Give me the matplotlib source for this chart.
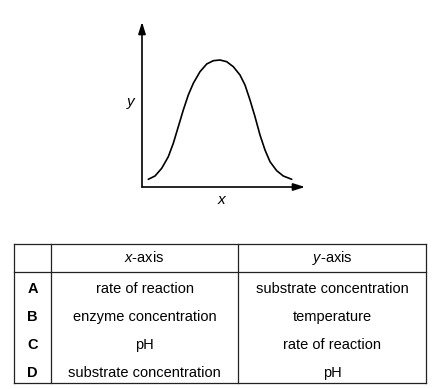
import matplotlib.pyplot as plt
from matplotlib.lines import Line2D

plt.rcParams['font.family'] = 'Liberation Sans'
plt.rcParams['mathtext.fontset'] = 'custom'
plt.rcParams['mathtext.rm'] = 'Liberation Sans'
plt.rcParams['mathtext.it'] = 'Liberation Sans:italic'

# Curve (units: pixels from the axis origin)
curve_x = [6.3, 13, 19.7, 26.3, 31.3, 36.3, 41.3, 46.3, 51.3, 58, 64.7, 71.3, 78,
           84.7, 91.3, 98, 103, 108, 113, 118, 123, 128, 134.7, 141.3, 149.7]
curve_y = [7.7, 11, 18.7, 30.3, 43.7, 60.3, 77, 92, 103.7, 115.3, 123, 126.3, 127,
           125.3, 120.3, 112, 102, 87, 70.3, 52, 37, 25.3, 16.3, 11, 7.7]

# Table contents
row_letters = ['A', 'B', 'C', 'D']
x_axis_items = ['rate of reaction', 'enzyme concentration', 'pH', 'substrate concentration']
y_axis_items = ['substrate concentration', 'temperature', 'rate of reaction', 'pH']
headers = ['$x$-axis', '$y$-axis']

W, H = 440, 389
fig = plt.figure(figsize=(W / 100, H / 100), dpi=100)

# Graph axes, positioned in pixel terms
x0, y0 = 142, 187          # origin (pixels from top-left)
xlen, ylen = 163, 165
ax = fig.add_axes([x0 / W, (H - y0) / H, xlen / W, ylen / H])
ax.set_xlim(0, xlen)
ax.set_ylim(0, ylen)
ax.axis('off')
ax.plot(curve_x, curve_y, color='black', lw=1.2, solid_capstyle='round',
        solid_joinstyle='round')
arrow = dict(arrowstyle='-|>,head_length=0.7,head_width=0.22', color='black', lw=1.2,
             shrinkA=0, shrinkB=0)
ax.annotate('', xy=(xlen, 0), xytext=(0, 0), arrowprops=arrow, annotation_clip=False)
ax.annotate('', xy=(0, ylen), xytext=(0, 0), arrowprops=arrow, annotation_clip=False)

# Overlay axes in figure pixel coordinates (y downwards) for labels and table
ov = fig.add_axes([0, 0, 1, 1])
ov.set_xlim(0, W)
ov.set_ylim(H, 0)
ov.axis('off')
ov.text(131, 102, 'y', style='italic', fontsize=11, ha='center', va='center')
ov.text(221, 200, 'x', style='italic', fontsize=11, ha='center', va='center')

# Table frame
left, c1, c2, right = 14, 51, 238, 426
top, head_bot, bottom = 244, 272, 383
lc = '#222222'
for yy in (top, head_bot, bottom):
    ov.add_line(Line2D([left, right], [yy, yy], color=lc, lw=0.9))
for xx in (left, c1, c2, right):
    ov.add_line(Line2D([xx, xx], [top, bottom], color=lc, lw=0.9))

fs = 10.5
ov.text((c1 + c2) / 2, 258, headers[0], fontsize=fs, ha='center', va='center')
ov.text((c2 + right) / 2, 258, headers[1], fontsize=fs, ha='center', va='center')
row_y = [289, 317, 345, 373]
for ry, letter, xi, yi in zip(row_y, row_letters, x_axis_items, y_axis_items):
    ov.text((left + c1) / 2, ry, letter, fontsize=fs, weight='bold', ha='center', va='center')
    ov.text((c1 + c2) / 2, ry, xi, fontsize=fs, ha='center', va='center')
    ov.text((c2 + right) / 2, ry, yi, fontsize=fs, ha='center', va='center')

fig.savefig('out.png', dpi=100)
